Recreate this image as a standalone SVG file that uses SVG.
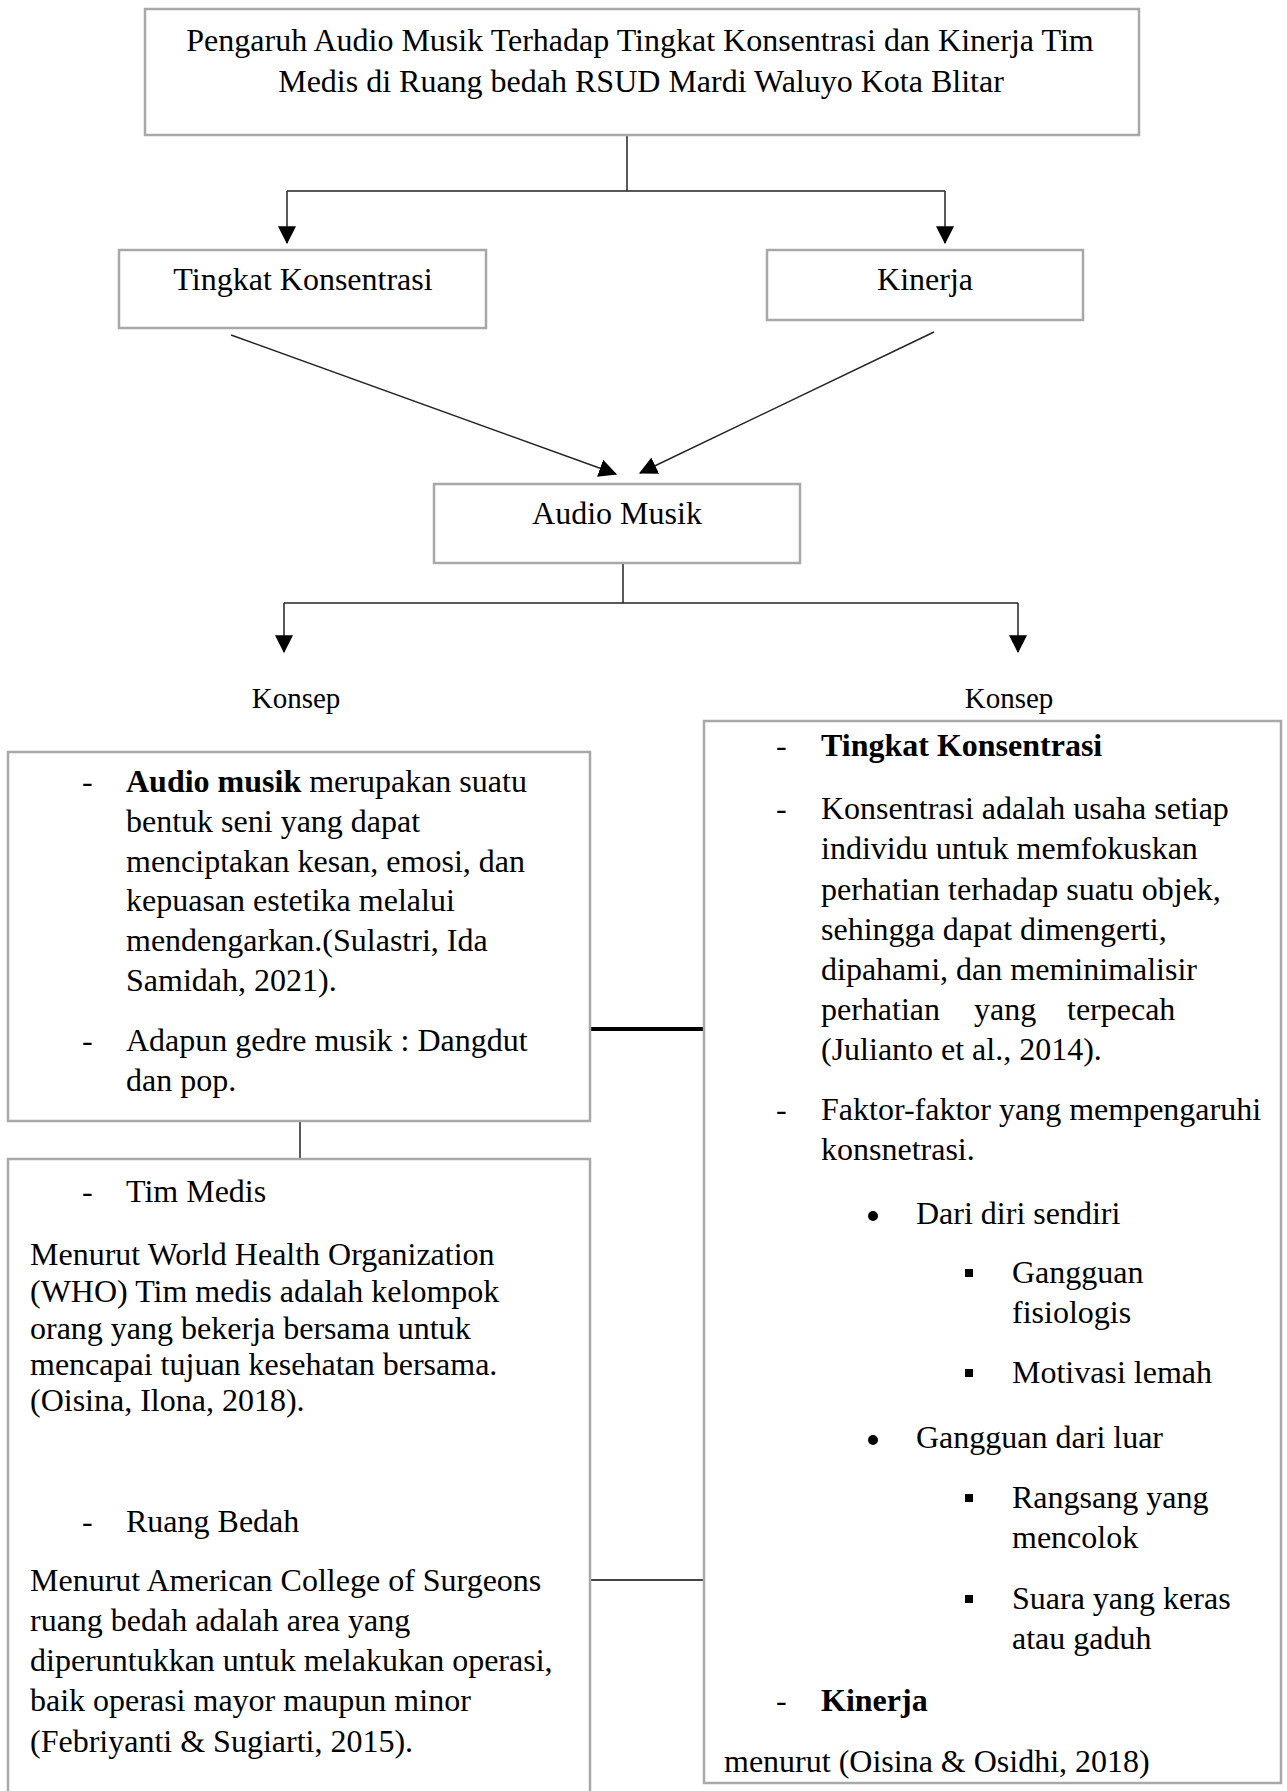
<svg xmlns="http://www.w3.org/2000/svg" width="1287" height="1791" viewBox="0 0 1287 1791">
<style>
.box{fill:#fff;stroke:#a8a8a8;stroke-width:2.5}
.ln{fill:none;stroke:#222;stroke-width:1.5}
text{font-family:"Liberation Serif","Times New Roman",serif;font-size:32px;fill:#000}
.c{text-anchor:middle}
.b{font-weight:bold}
.k{font-size:29px}
</style>
<defs>
<marker id="ah" markerUnits="userSpaceOnUse" markerWidth="18" markerHeight="18" viewBox="0 0 16 16" refX="15" refY="8" orient="auto">
<path d="M0,0 L16,8 L0,16 Z" fill="#000"/>
</marker>
</defs>
<rect width="1287" height="1791" fill="#fff"/>
<g id="connectors">
<path class="ln" d="M627,135 V191"/>
<path class="ln" d="M287,191 H945"/>
<path class="ln" d="M287,191 V243" marker-end="url(#ah)"/>
<path class="ln" d="M945,191 V243" marker-end="url(#ah)"/>
<path class="ln" d="M231,335 L616,474" marker-end="url(#ah)"/>
<path class="ln" d="M934,332 L640,473" marker-end="url(#ah)"/>
<path class="ln" d="M623,563 V603"/>
<path class="ln" d="M284,603 H1018"/>
<path class="ln" d="M284,603 V652" marker-end="url(#ah)"/>
<path class="ln" d="M1018,603 V652" marker-end="url(#ah)"/>
<path class="ln" d="M300,1121 V1159"/>
<path fill="none" stroke="#000" stroke-width="4" d="M590,1029 H704"/>
<path fill="none" stroke="#444" stroke-width="2" d="M590,1580 H704"/>
</g>
<g id="node-title">
<rect class="box" x="145" y="9" width="994" height="126"/>
<text class="c" x="640" y="51">Pengaruh Audio Musik Terhadap Tingkat Konsentrasi dan Kinerja Tim</text>
<text class="c" x="641" y="92">Medis di Ruang bedah RSUD Mardi Waluyo Kota Blitar</text>
</g>
<g id="node-tingkat">
<rect class="box" x="119" y="250" width="367" height="78"/>
<text class="c" x="303" y="290">Tingkat Konsentrasi</text>
</g>
<g id="node-kinerja">
<rect class="box" x="767" y="250" width="316" height="70"/>
<text class="c" x="925" y="290">Kinerja</text>
</g>
<g id="node-audio">
<rect class="box" x="434" y="484" width="366" height="79"/>
<text class="c" x="617" y="524">Audio Musik</text>
</g>
<g id="label-konsep-left"><text class="c k" x="296" y="708">Konsep</text></g>
<g id="label-konsep-right"><text class="c k" x="1009" y="708">Konsep</text></g>
<g id="node-audio-konsep">
<rect class="box" x="8" y="752" width="582" height="369"/>
<text x="82" y="792">-</text>
<text x="126" y="792"><tspan class="b">Audio musik</tspan> merupakan suatu</text>
<text x="126" y="832">bentuk seni yang dapat</text>
<text x="126" y="872">menciptakan kesan, emosi, dan</text>
<text x="126" y="911">kepuasan estetika melalui</text>
<text x="126" y="951">mendengarkan.(Sulastri, Ida</text>
<text x="126" y="991">Samidah, 2021).</text>
<text x="82" y="1051">-</text>
<text x="126" y="1051">Adapun gedre musik : Dangdut</text>
<text x="126" y="1091">dan pop.</text>
</g>
<g id="node-tim-medis">
<rect class="box" x="8" y="1159" width="582" height="660"/>
<text x="82" y="1202">-</text>
<text x="126" y="1202">Tim Medis</text>
<text x="30" y="1265">Menurut World Health Organization</text>
<text x="30" y="1302">(WHO) Tim medis adalah kelompok</text>
<text x="30" y="1339">orang yang bekerja bersama untuk</text>
<text x="30" y="1375">mencapai tujuan kesehatan bersama.</text>
<text x="30" y="1411">(Oisina, Ilona, 2018).</text>
<text x="82" y="1532">-</text>
<text x="126" y="1532">Ruang Bedah</text>
<text x="30" y="1591">Menurut American College of Surgeons</text>
<text x="30" y="1631">ruang bedah adalah area yang</text>
<text x="30" y="1671">diperuntukkan untuk melakukan operasi,</text>
<text x="30" y="1711">baik operasi mayor maupun minor</text>
<text x="30" y="1752">(Febriyanti &amp; Sugiarti, 2015).</text>
</g>
<g id="node-konsentrasi-konsep">
<rect class="box" x="704" y="721" width="577" height="1062"/>
<text x="776" y="756">-</text>
<text class="b" x="821" y="756">Tingkat Konsentrasi</text>
<text x="776" y="819">-</text>
<text x="821" y="819">Konsentrasi adalah usaha setiap</text>
<text x="821" y="859">individu untuk memfokuskan</text>
<text x="821" y="900">perhatian terhadap suatu objek,</text>
<text x="821" y="940">sehingga dapat dimengerti,</text>
<text x="821" y="980">dipahami, dan meminimalisir</text>
<text y="1020"><tspan x="821">perhatian</tspan><tspan x="974">yang</tspan><tspan x="1067">terpecah</tspan></text>
<text x="821" y="1060">(Julianto et al., 2014).</text>
<text x="776" y="1120">-</text>
<text x="821" y="1120">Faktor-faktor yang mempengaruhi</text>
<text x="821" y="1160">konsnetrasi.</text>
<circle cx="873" cy="1216" r="5"/>
<text x="916" y="1224">Dari diri sendiri</text>
<rect x="965" y="1269" width="8" height="8"/>
<text x="1012" y="1283">Gangguan</text>
<text x="1012" y="1323">fisiologis</text>
<rect x="965" y="1369" width="8" height="8"/>
<text x="1012" y="1383">Motivasi lemah</text>
<circle cx="873" cy="1440" r="5"/>
<text x="916" y="1448">Gangguan dari luar</text>
<rect x="965" y="1494" width="8" height="8"/>
<text x="1012" y="1508">Rangsang yang</text>
<text x="1012" y="1548">mencolok</text>
<rect x="965" y="1595" width="8" height="8"/>
<text x="1012" y="1609">Suara yang keras</text>
<text x="1012" y="1649">atau gaduh</text>
<text x="776" y="1711">-</text>
<text class="b" x="821" y="1711">Kinerja</text>
<text x="724" y="1772">menurut (Oisina &amp; Osidhi, 2018)</text>
</g>
</svg>
